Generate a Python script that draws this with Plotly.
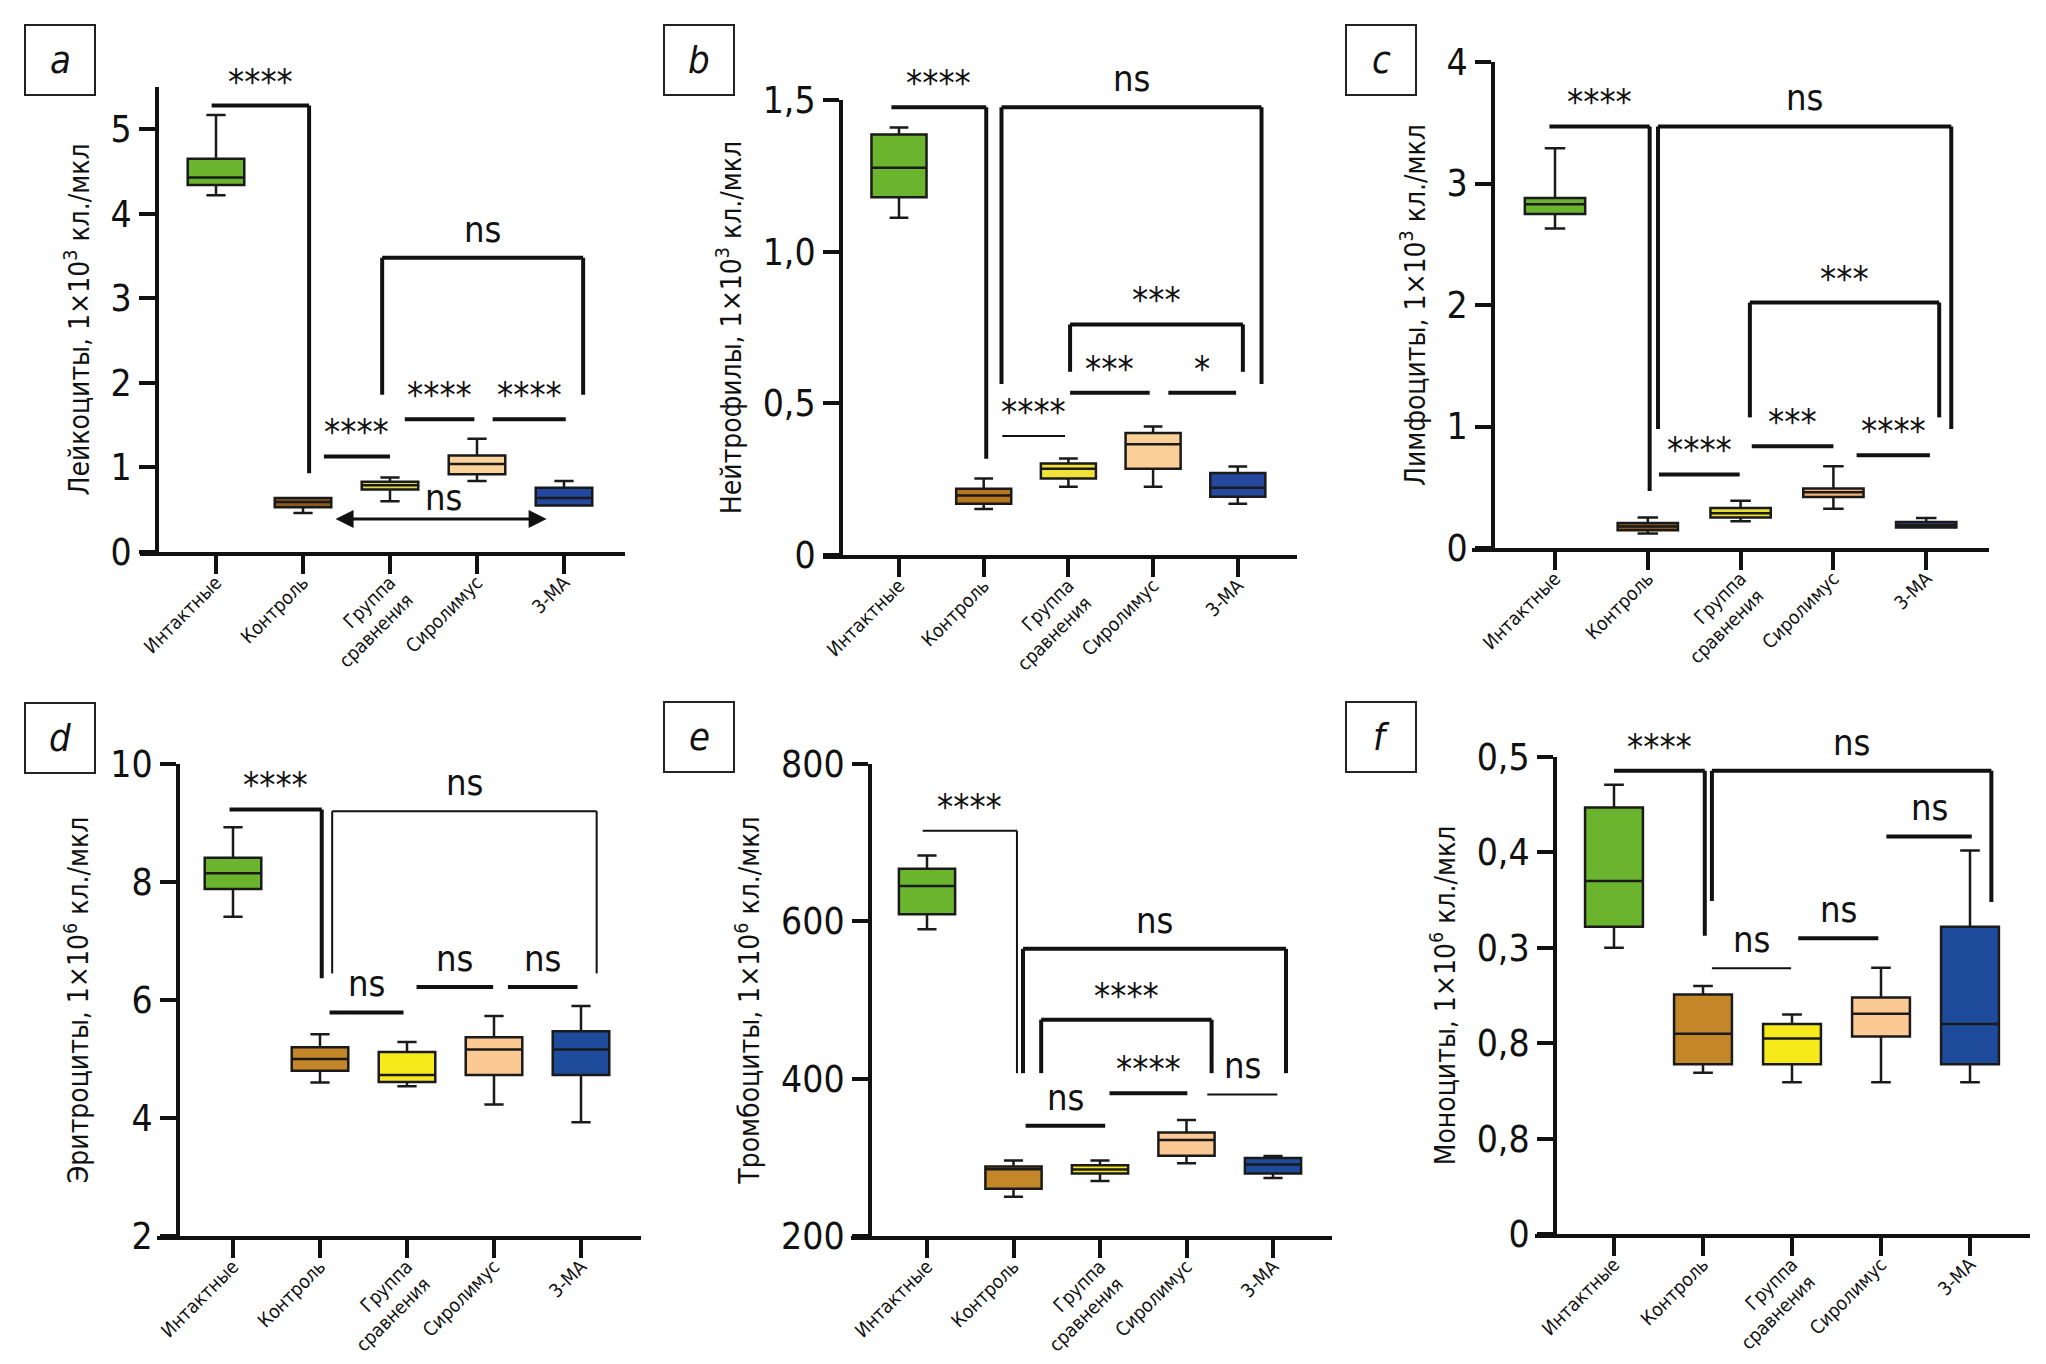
import plotly.graph_objects as go

W, H = 2046, 1364          # browser window
OFF = 8                    # default page margin around the plot div
WF, HF = W - 2 * OFF, H - 2 * OFF
FONT = "DejaVu Sans Condensed, Liberation Sans Narrow, Roboto, sans-serif"

GROUPS = ["Интактные", "Контроль", "Группа<br>сравнения", "Сиролимус", "3-МА"]
POS = [0, 1, 2, 3, 4]
FILLS_TOP_A = ["#6ab42e", "#8b5a1c", "#dcd84a", "#fbd39a", "#2447a0"]
FILLS_TOP_B = ["#6ab42e", "#b8761e", "#efe13a", "#fbcf98", "#2447a0"]
FILLS_TOP_C = ["#6ab42e", "#8b5a1c", "#e8df30", "#f2b374", "#4a4fb0"]
FILLS_BOTTOM = ["#6ab42e", "#c38628", "#f7ea1a", "#fbc994", "#1e4b9c"]

# ---- data: box summaries (lower whisker, q1, median, q3, upper whisker) ----
A_LOW = [4.22, 0.46, 0.60, 0.84, 0.55]
A_Q1 = [4.34, 0.53, 0.74, 0.92, 0.55]
A_MED = [4.43, 0.59, 0.79, 1.04, 0.64]
A_Q3 = [4.65, 0.64, 0.83, 1.14, 0.76]
A_HIGH = [5.17, 0.64, 0.88, 1.34, 0.84]

B_LOW = [1.112, 0.152, 0.225, 0.225, 0.169]
B_Q1 = [1.179, 0.169, 0.252, 0.284, 0.192]
B_MED = [1.277, 0.196, 0.284, 0.365, 0.222]
B_Q3 = [1.386, 0.218, 0.302, 0.402, 0.270]
B_HIGH = [1.409, 0.252, 0.318, 0.424, 0.292]

C_LOW = [2.63, 0.12, 0.22, 0.323, 0.169]
C_Q1 = [2.75, 0.147, 0.25, 0.42, 0.169]
C_MED = [2.83, 0.176, 0.286, 0.459, 0.19]
C_Q3 = [2.88, 0.205, 0.33, 0.49, 0.213]
C_HIGH = [3.29, 0.25, 0.389, 0.672, 0.246]

D_LOW = [7.41, 4.60, 4.54, 4.23, 3.93]
D_Q1 = [7.88, 4.80, 4.61, 4.73, 4.73]
D_MED = [8.15, 5.00, 4.73, 5.16, 5.16]
D_Q3 = [8.41, 5.20, 5.12, 5.37, 5.47]
D_HIGH = [8.93, 5.42, 5.29, 5.73, 5.90]

E_LOW = [590, 250, 270, 292.5, 273.8]
E_Q1 = [609, 260, 279.5, 302, 279.5]
E_MED = [645, 285, 284.6, 322, 290.8]
E_Q3 = [667, 288.5, 290, 331.7, 299]
E_HIGH = [683.6, 296, 296, 347.6, 301.6]

F_LOW = [0.300, 0.169, 0.159, 0.159, 0.159]
F_Q1 = [0.322, 0.178, 0.178, 0.207, 0.178]
F_MED = [0.370, 0.210, 0.205, 0.231, 0.220]
F_Q3 = [0.447, 0.251, 0.220, 0.248, 0.322]
F_HIGH = [0.471, 0.260, 0.230, 0.279, 0.402]

# y-axis ticks
A_TICKS = [0, 1, 2, 3, 4, 5]
A_TICKTEXT = ["0", "1", "2", "3", "4", "5"]
B_TICKS = [0, 0.5, 1.0, 1.5]
B_TICKTEXT = ["0", "0,5", "1,0", "1,5"]
C_TICKS = [0, 1, 2, 3, 4]
C_TICKTEXT = ["0", "1", "2", "3", "4"]
D_TICKS = [2, 4, 6, 8, 10]
D_TICKTEXT = ["2", "4", "6", "8", "10"]
E_TICKS = [200, 400, 600, 800]
E_TICKTEXT = ["200", "400", "600", "800"]
F_TICKS = [0, 0.1, 0.2, 0.3, 0.4, 0.5]
F_TICKTEXT = ["0", "0,8", "0,8", "0,3", "0,4", "0,5"]

# significance brackets: (x_left, x_right, y, left-leg bottom, right-leg bottom, label, thick)
A_SIG = [(-0.05, 1.07, 5.28, None, 0.93, "****", True),
         (1.91, 4.22, 3.48, 1.86, 1.86, "ns", True),
         (1.24, 2.00, 1.13, None, None, "****", True),
         (2.17, 2.97, 1.57, None, None, "****", True),
         (3.18, 4.02, 1.57, None, None, "****", True)]
A_ARROW = (1.34, 3.80, 0.39, 2.61, 0.64, "ns")
B_SIG = [(-0.09, 1.03, 1.476, None, 0.317, "****", True),
         (1.21, 4.28, 1.476, 0.564, 0.564, "ns", True),
         (2.02, 4.06, 0.76, 0.604, 0.604, "***", True),
         (1.22, 1.96, 0.392, None, None, "****", False),
         (2.02, 2.96, 0.535, None, None, "***", True),
         (3.18, 3.98, 0.535, None, None, "*", True)]
C_SIG = [(-0.06, 1.02, 3.47, None, 0.47, "****", True),
         (1.11, 4.27, 3.47, 0.98, 0.98, "ns", True),
         (2.10, 4.14, 2.02, 1.075, 1.075, "***", True),
         (1.12, 1.99, 0.605, None, None, "****", True),
         (2.12, 3.00, 0.837, None, None, "***", True),
         (3.25, 4.04, 0.763, None, None, "****", True)]
D_SIG = [(-0.04, 1.02, 9.23, None, 6.37, "****", True),
         (1.14, 4.18, 9.20, 6.45, 6.45, "ns", False),
         (1.11, 1.96, 5.79, None, None, "ns", True),
         (2.11, 2.99, 6.22, None, None, "ns", True),
         (3.16, 3.96, 6.22, None, None, "ns", True)]
E_SIG = [(-0.05, 1.04, 715, None, 407, "****", False),
         (1.11, 4.15, 565, 407, 407, "ns", True),
         (1.32, 3.29, 475, 407, 407, "****", True),
         (1.14, 2.06, 340, None, None, "ns", True),
         (2.11, 3.01, 381.6, None, None, "****", True),
         (3.24, 4.05, 380, None, None, "ns", False)]
F_SIG = [(0.00, 1.02, 0.4855, None, 0.3127, "****", True),
         (1.10, 4.24, 0.4855, 0.349, 0.348, "ns", True),
         (1.10, 1.99, 0.2786, None, None, "ns", False),
         (2.07, 2.97, 0.31, None, None, "ns", True),
         (3.06, 4.02, 0.4167, None, None, "ns", True)]

PANELS = [
    dict(letter="a", title="Лейкоциты, 1×10<sup>3</sup> кл./мкл", fills=FILLS_TOP_A,
         low=A_LOW, q1=A_Q1, med=A_MED, q3=A_Q3, high=A_HIGH,
         ticks=A_TICKS, ticktext=A_TICKTEXT, yr=[0, 5.5], sig=A_SIG,
         px=dict(xl=140, xr=625, yx=157, c0=216, sp=87, yb=552, yt=87, box=(25, 25))),
    dict(letter="b", title="Нейтрофилы, 1×10<sup>3</sup> кл./мкл", fills=FILLS_TOP_B,
         low=B_LOW, q1=B_Q1, med=B_MED, q3=B_Q3, high=B_HIGH,
         ticks=B_TICKS, ticktext=B_TICKTEXT, yr=[0, 1.5], sig=B_SIG,
         px=dict(xl=823, xr=1297, yx=841, c0=899, sp=84.7, yb=555, yt=100, box=(664, 25))),
    dict(letter="c", title="Лимфоциты, 1×10<sup>3</sup> кл./мкл", fills=FILLS_TOP_C,
         low=C_LOW, q1=C_Q1, med=C_MED, q3=C_Q3, high=C_HIGH,
         ticks=C_TICKS, ticktext=C_TICKTEXT, yr=[0, 4], sig=C_SIG,
         px=dict(xl=1472, xr=1989, yx=1493, c0=1555, sp=92.8, yb=548, yt=62, box=(1346, 25))),
    dict(letter="d", title="Эритроциты, 1×10<sup>6</sup> кл./мкл", fills=FILLS_BOTTOM,
         low=D_LOW, q1=D_Q1, med=D_MED, q3=D_Q3, high=D_HIGH,
         ticks=D_TICKS, ticktext=D_TICKTEXT, yr=[2, 10], sig=D_SIG,
         px=dict(xl=157, xr=641, yx=178, c0=233, sp=87, yb=1236, yt=764, box=(25, 703))),
    dict(letter="e", title="Тромбоциты, 1×10<sup>6</sup> кл./мкл", fills=FILLS_BOTTOM,
         low=E_LOW, q1=E_Q1, med=E_MED, q3=E_Q3, high=E_HIGH,
         ticks=E_TICKS, ticktext=E_TICKTEXT, yr=[200, 800], sig=E_SIG,
         px=dict(xl=851, xr=1332, yx=870, c0=927, sp=86.5, yb=1236, yt=764, box=(664, 702))),
    dict(letter="f", title="Моноциты, 1×10<sup>6</sup> кл./мкл", fills=FILLS_BOTTOM,
         low=F_LOW, q1=F_Q1, med=F_MED, q3=F_Q3, high=F_HIGH,
         ticks=F_TICKS, ticktext=F_TICKTEXT, yr=[0, 0.5], sig=F_SIG,
         px=dict(xl=1535, xr=2030, yx=1555, c0=1614, sp=89, yb=1234, yt=757, box=(1346, 702))),
]


def fx(px):
    return (px - OFF) / WF


def fy(py):
    return 1 - (py - OFF) / HF


fig = go.Figure()
shapes = []
annotations = []
layout = {}

for i, p in enumerate(PANELS):
    n = "" if i == 0 else str(i + 1)
    xa, ya = "x" + n, "y" + n
    g = p["px"]
    for j in POS:
        fig.add_trace(go.Box(
            x=[POS[j]], q1=[p["q1"][j]], median=[p["med"][j]], q3=[p["q3"][j]],
            lowerfence=[p["low"][j]], upperfence=[p["high"][j]],
            width=0.65, whiskerwidth=0.34, fillcolor=p["fills"][j],
            line=dict(color="#1a1a1a", width=2.5), boxpoints=False,
            xaxis=xa, yaxis=ya, showlegend=False, hoverinfo="skip"))
    xr0 = (g["xl"] - g["c0"]) / g["sp"]
    xr1 = (g["xr"] - g["c0"]) / g["sp"]
    layout["xaxis" + n] = dict(
        domain=[fx(g["xl"]), fx(g["xr"])], range=[xr0, xr1], anchor=ya, automargin=False,
        tickvals=POS, ticktext=GROUPS, tickangle=-45, ticks="outside",
        ticklen=18, tickwidth=4, tickcolor="#111", showline=True, linewidth=4,
        linecolor="#111", showgrid=False, zeroline=False, ticklabelstandoff=-10,
        tickfont=dict(family=FONT, size=19, color="#111"))
    layout["yaxis" + n] = dict(
        domain=[fy(g["yb"]), fy(g["yt"])], range=p["yr"], anchor="free",
        position=fx(g["yx"]), automargin=False, tickvals=p["ticks"], ticktext=p["ticktext"],
        ticks="outside", ticklen=16, tickwidth=4, tickcolor="#111",
        showline=True, linewidth=4, linecolor="#111", showgrid=False, zeroline=False,
        tickfont=dict(family=FONT, size=37, color="#111"),
        title=dict(text=p["title"], font=dict(family=FONT, size=28, color="#111"), standoff=12))
    # significance brackets
    for (x1, x2, y, l1, l2, lab, thick) in p["sig"]:
        lw = 4 if thick else 2
        ln = dict(color="#111", width=lw)
        shapes.append(dict(type="line", xref=xa, yref=ya, x0=x1, x1=x2, y0=y, y1=y, line=ln))
        if l1 is not None:
            shapes.append(dict(type="line", xref=xa, yref=ya, x0=x1, x1=x1, y0=y, y1=l1, line=ln))
        if l2 is not None:
            shapes.append(dict(type="line", xref=xa, yref=ya, x0=x2, x1=x2, y0=y, y1=l2, line=ln))
        is_ns = lab == "ns"
        annotations.append(dict(
            xref=xa, yref=ya, x=(x1 + x2) / 2, y=y, text=lab, showarrow=False,
            yanchor="bottom", xanchor="center", yshift=6 if is_ns else 2,
            font=dict(family=FONT, size=36, color="#111")))
    # panel letter box
    bx, by = g["box"]
    shapes.append(dict(type="rect", xref="paper", yref="paper",
                       x0=fx(bx), x1=fx(bx + 70), y0=fy(by + 70), y1=fy(by),
                       line=dict(color="#222", width=2)))
    annotations.append(dict(xref="paper", yref="paper", x=fx(bx + 35), y=fy(by + 35),
                            text="<i>" + p["letter"] + "</i>", showarrow=False,
                            xanchor="center", yanchor="middle",
                            font=dict(family=FONT, size=38, color="#111")))

# double arrow in panel a
ax0, ax1, ay, ntx, nty, nlab = A_ARROW
annotations.append(dict(xref="x", yref="y", axref="x", ayref="y", x=ax1, y=ay, ax=ax0, ay=ay,
                        showarrow=True, arrowhead=2, startarrowhead=2, arrowside="end+start",
                        arrowwidth=3, arrowsize=1.2, startarrowsize=1.2, arrowcolor="#111", text=" "))
annotations.append(dict(xref="x", yref="y", x=ntx, y=nty, text=nlab, showarrow=False,
                        xanchor="center", yanchor="middle",
                        font=dict(family=FONT, size=36, color="#111")))

fig.update_layout(**layout)
fig.update_layout(template="none", width=WF, height=HF, margin=dict(l=0, r=0, t=0, b=0, pad=0),
                  paper_bgcolor="white", plot_bgcolor="white",
                  shapes=shapes, annotations=annotations, showlegend=False,
                  font=dict(family=FONT, color="#111"))
fig.write_html("out.html")
